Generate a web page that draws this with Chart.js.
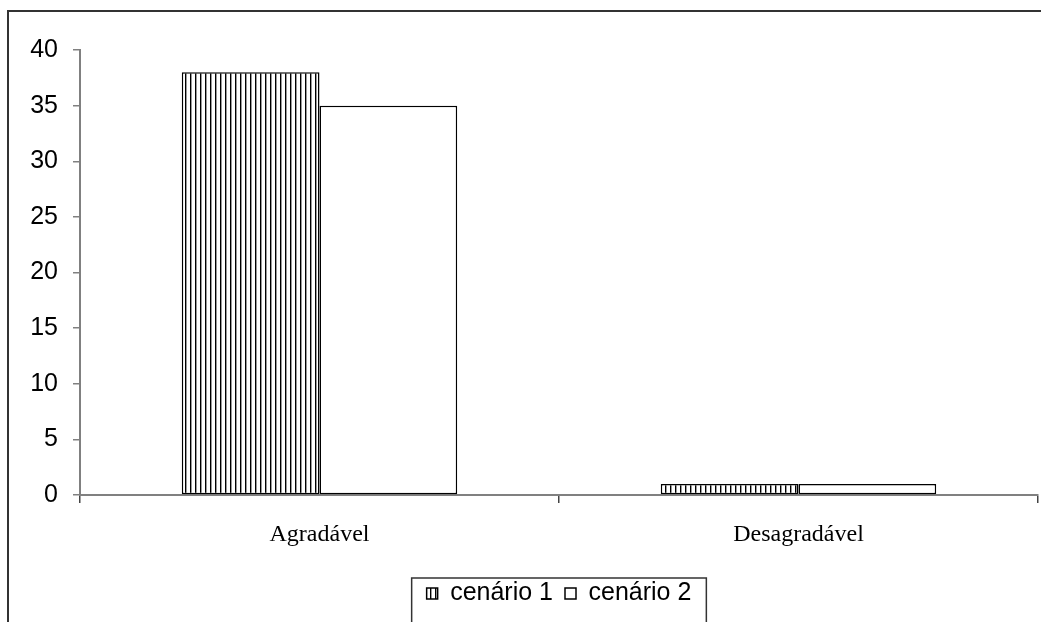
<!DOCTYPE html>
<html>
<head>
<meta charset="utf-8">
<script src="https://cdn.jsdelivr.net/npm/chart.js@4/dist/chart.umd.min.js"></script>
<style>
  html, body { margin: 0; padding: 0; background: #fff; }
  #chart { display: block; }
</style>
</head>
<body>
<canvas id="chart" width="1041" height="622"></canvas>
<script>
const categories = ['Agradável', 'Desagradável'];
const cenario1 = [38, 1];
const cenario2 = [35, 1];
const yTicks = [0, 5, 10, 15, 20, 25, 30, 35, 40];

// vertical stripes like the old office fill
function stripes() {
  const c = document.createElement('canvas');
  c.width = 5; c.height = 5;
  const g = c.getContext('2d');
  g.fillStyle = '#fff';
  g.fillRect(0, 0, 5, 5);
  g.fillStyle = '#000';
  g.fillRect(0, 0, 1, 5);
  g.fillStyle = '#999';
  g.fillRect(1, 0, 1, 5);
  return g.createPattern(c, 'repeat');
}

const frame = {
  id: 'frame',
  beforeDraw(chart) {
    const ctx = chart.ctx;
    ctx.save();
    ctx.strokeStyle = '#333';
    ctx.lineWidth = 2;
    ctx.strokeRect(8, 11, 1100, 700);
    ctx.restore();
  },
  afterDraw(chart) {
    const lg = chart.legend;
    if (!lg || !lg.legendHitBoxes.length) return;
    const boxes = lg.legendHitBoxes;
    const x0 = boxes[0].left - 15;
    const last = boxes[boxes.length - 1];
    const x1 = last.left + last.width + 15;
    const y0 = boxes[0].top - 3;
    const ctx = chart.ctx;
    ctx.save();
    ctx.strokeStyle = '#333';
    ctx.lineWidth = 1.5;
    ctx.strokeRect(x0, y0, x1 - x0, 100);
    ctx.restore();
  }
};

window.onload = function() {
  const pat = stripes();
  new Chart(document.getElementById('chart'), {
    type: 'bar',
    data: {
      labels: categories,
      datasets: [
        { label: 'cenário 1', data: cenario1, backgroundColor: pat, borderColor: '#000', borderWidth: 1.5, borderSkipped: false },
        { label: 'cenário 2', data: cenario2, backgroundColor: '#fff', borderColor: '#000', borderWidth: 1.5, borderSkipped: false }
      ]
    },
    options: {
      responsive: false,
      devicePixelRatio: 1,
      animation: false,
      layout: { padding: { top: 50, left: 8, right: 3, bottom: 6 } },
      datasets: { bar: { barPercentage: 1, categoryPercentage: 0.575 } },
      plugins: {
        tooltip: { enabled: false },
        legend: {
          position: 'bottom',
          fullSize: false,
          labels: {
            color: '#000',
            font: { family: 'Liberation Sans, Arial', size: 25 },
            boxWidth: 11,
            boxHeight: 11,
            padding: 12
          }
        }
      },
      scales: {
        x: {
          grid: { offset: true, drawOnChartArea: false, drawTicks: true, tickLength: 8, color: '#444', lineWidth: 1.5 },
          border: { color: '#808080', width: 2 },
          ticks: { color: '#000', font: { family: 'Liberation Serif, Times New Roman', size: 24 }, padding: 17 },
          afterFit(s) { s.height = 74; }
        },
        y: {
          min: 0,
          max: 40,
          afterBuildTicks(s) { s.ticks = yTicks.map(v => ({ value: v })); },
          grid: { drawOnChartArea: false, drawTicks: true, tickLength: 7, color: '#808080', lineWidth: 1.5 },
          border: { color: '#808080', width: 2 },
          ticks: { color: '#000', font: { family: 'Liberation Sans, Arial', size: 25 }, padding: 15 },
          afterFit(s) { s.width = 72; }
        }
      }
    },
    plugins: [frame]
  });
};
</script>
</body>
</html>
